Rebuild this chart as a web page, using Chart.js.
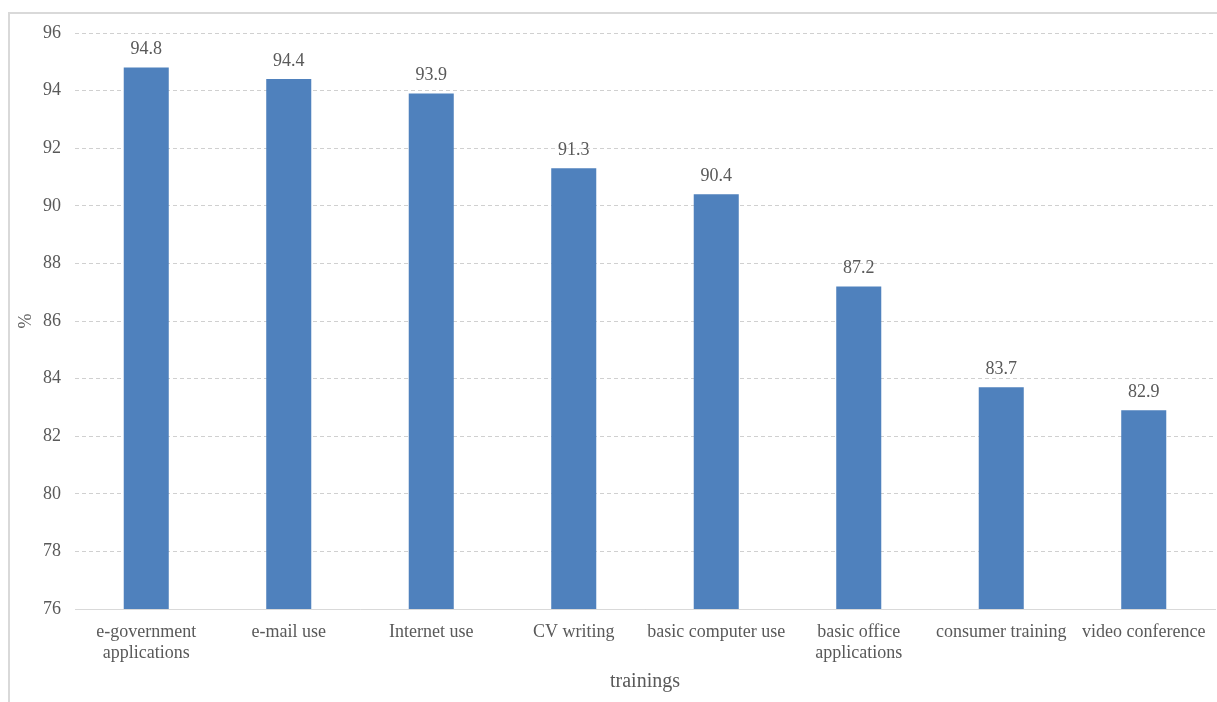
<!DOCTYPE html>
<html>
<head>
<meta charset="utf-8">
<script src="https://cdn.jsdelivr.net/npm/chart.js@4/dist/chart.umd.min.js"></script>
<style>
  html, body { margin: 0; padding: 0; background: #ffffff; overflow: hidden; }
  #wrap { position: relative; width: 1217px; height: 702px; }
  #frame { position: absolute; left: 8px; top: 12px; width: 1240px; height: 720px;
           border: 2px solid #d9d9d9; box-sizing: border-box; }
  canvas { position: absolute; left: 0; top: 0; }
</style>
</head>
<body>
<div id="wrap">
  <div id="frame"></div>
  <canvas id="c" width="1217" height="702"></canvas>
</div>
<script>
// Training categories and share of participants (%)
const categories = [
  ["e-government", "applications"],
  "e-mail use",
  "Internet use",
  "CV writing",
  "basic computer use",
  ["basic office", "applications"],
  "consumer training",
  "video conference"
];
const values = [94.8, 94.4, 93.9, 91.3, 90.4, 87.2, 83.7, 82.9];
const yTicks = [76, 78, 80, 82, 84, 86, 88, 90, 92, 94, 96];

const textColor = '#595959';
const serif = '"Liberation Serif", "Times New Roman", serif';

// Writes each bar's value above it
const valueLabels = {
  id: 'valueLabels',
  afterDatasetsDraw(chart) {
    const ctx = chart.ctx;
    const meta = chart.getDatasetMeta(0);
    ctx.save();
    ctx.font = '18px ' + serif;
    ctx.fillStyle = textColor;
    ctx.textAlign = 'center';
    ctx.textBaseline = 'bottom';
    meta.data.forEach((bar, i) => {
      ctx.fillText(values[i].toFixed(1), bar.x, bar.y - 9);
    });
    ctx.restore();
  }
};

new Chart(document.getElementById('c'), {
  type: 'bar',
  data: {
    labels: categories,
    datasets: [{
      data: values,
      backgroundColor: '#4f81bd',
      borderWidth: 0,
      categoryPercentage: 1,
      barPercentage: 0.316
    }]
  },
  options: {
    responsive: false,
    animation: false,
    layout: { padding: { top: 33, right: 2, bottom: 0, left: 0 } },
    plugins: { legend: { display: false }, tooltip: { enabled: false } },
    scales: {
      x: {
        grid: { display: false },
        border: { display: true, color: '#d9d9d9', width: 1 },
        ticks: {
          color: textColor,
          font: { family: serif, size: 18, lineHeight: 1.15 },
          padding: 5,
          maxRotation: 0,
          autoSkip: false
        },
        title: {
          display: true,
          text: 'trainings',
          color: textColor,
          font: { family: serif, size: 20 },
          padding: { top: 0, bottom: 8 }
        },
        afterFit(scale) { scale.height = 93; }
      },
      y: {
        min: 76,
        max: 96,
        afterBuildTicks(scale) { scale.ticks = yTicks.map(v => ({ value: v })); },
        grid: { color: '#d0d0d0', lineWidth: 1, drawTicks: false },
        border: { display: false, dash: [4, 3] },
        ticks: {
          color: textColor,
          font: { family: serif, size: 18 },
          padding: 14
        },
        title: {
          display: true,
          text: '%',
          color: textColor,
          font: { family: serif, size: 18 },
          padding: { top: 15, bottom: 0 }
        },
        afterFit(scale) { scale.width = 75; }
      }
    }
  },
  plugins: [valueLabels]
});
</script>
</body>
</html>
